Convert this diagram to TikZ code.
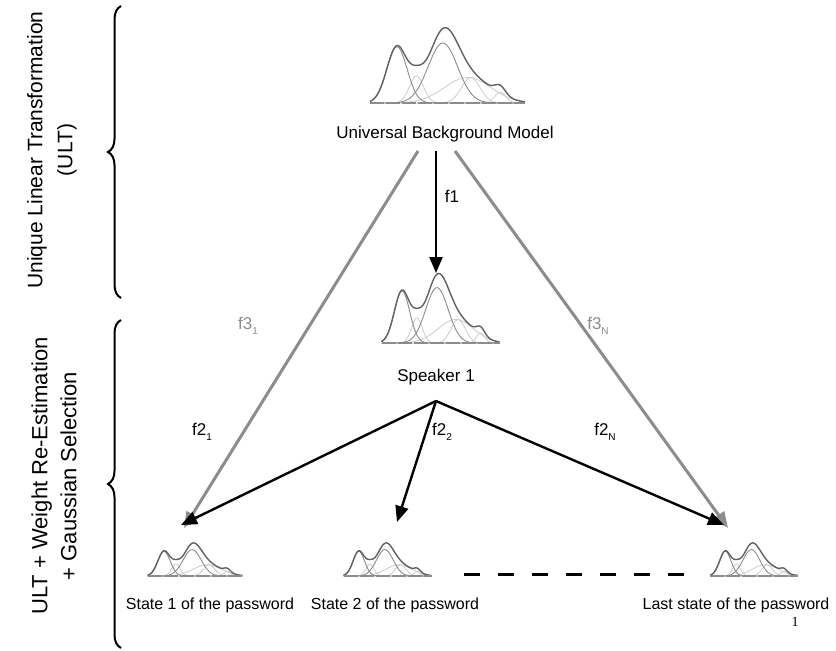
\documentclass[tikz,border=0pt]{standalone}
\usepackage{fontspec}
\setmainfont{Liberation Sans}
\newfontfamily\serifone{Liberation Serif}
\usetikzlibrary{arrows.meta,decorations.pathreplacing}

%% small mixture-of-gaussians icon: x0, baseline y, width, height
\newcommand{\gmm}[4]{%
	\begin{scope}[shift={(#1,#2)}, xscale=#3, yscale=-#4]
		\foreach \hh/\mm/\ss in {0.30/0.30/0.045, 0.28/0.65/0.06, 0.12/0.84/0.035, 0.28/0.63/0.15}
		\draw[comp] plot[domain=0:1, samples=60] (\x, {g(\x,\hh,\mm,\ss)});
		\foreach \hh/\mm/\ss in {0.62/0.174/0.065, 0.66/0.47/0.095}
		\draw[compd] plot[domain=0:1, samples=60] (\x, {g(\x,\hh,\mm,\ss)});
		\draw[envel] plot[domain=0:1, samples=100] (\x, {g(\x,0.62,0.174,0.065)+g(\x,0.16,0.30,0.045)
			+g(\x,0.66,0.47,0.095)+g(\x,0.28,0.63,0.15)+g(\x,0.09,0.84,0.035)});
		\draw[basel](0,0)--(1,0);
	\end{scope}}

\begin{document}
\begin{tikzpicture}[
	x=1pt, y=-1pt,
	declare function={g(\x,\h,\m,\s)=\h*exp(-((\x-\m)*(\x-\m))/(2*\s*\s));},
	comp/.style={line width=0.8pt, black!20},
	compd/.style={line width=0.9pt, black!45},
	envel/.style={line width=1.4pt, black!62, line join=round},
	basel/.style={line width=1.1pt, black!45, dash pattern=on 14pt off 2pt},
	fblack/.style={line width=2.4pt, black, -{Triangle[length=16pt,width=13pt]}},
	fgray/.style={line width=3pt, black!45, -{Triangle[length=16pt,width=13pt]}},
	lbl/.style={font=\fontsize{17}{20}\selectfont},
	glbl/.style={font=\fontsize{17}{20}\selectfont, text=black!45},
	statelbl/.style={font=\fontsize{16}{18}\selectfont},
	side/.style={rotate=90, align=center},
	brc/.style={line width=2pt, decorate, decoration={brace, amplitude=13pt}},
	]
	\useasboundingbox (0,0) rectangle (836,651);
	
	\newcommand{\sub}[1]{\raisebox{-5pt}{\fontsize{10}{10}\selectfont #1}}
	
	%% ── mixtures ──────────────────────────────────────────
	\gmm{370}{103}{155}{91}
	\gmm{381.5}{343}{118}{84}
	\gmm{147.5}{576}{95}{40}
	\gmm{343.5}{576}{88}{40}
	\gmm{710}{576}{88}{40}
	
	%% ── labels ────────────────────────────────────────────
	\node[lbl] (ubm) at (445,134) {Universal Background Model};
	\node[lbl] (spk) at (436,377) {Speaker 1};
	\node[statelbl] (st1) at (210,605) {State 1 of the password};
	\node[statelbl] (st2) at (395,605) {State 2 of the password};
	\node[statelbl] (stN) at (736,605) {Last state of the password};
	\node[font=\serifone\fontsize{14}{14}\selectfont] (one) at (795,622) {1};
	
	%% ── connectors ────────────────────────────────────────
	\coordinate (ubmC) at (436,151);
	\coordinate (ubmL) at (418,151);
	\coordinate (ubmR) at (455,151);
	\coordinate (spkT) at (436,273);
	\coordinate (spkB) at (436,401);
	\coordinate (in1) at (181,525);
	\coordinate (in2) at (397,522);
	\coordinate (inN) at (724,525);
	\coordinate (g1) at (184,528);
	\coordinate (gN) at (728,528);
	\coordinate (dashA) at (464,574);
	\coordinate (dashB) at (684,574);
	
	\draw[fgray](ubmL)--(g1);
	\draw[fgray](ubmR)--(gN);
	\draw[fblack](ubmC)--(spkT);
	\draw[fblack](spkB)--(in1);
	\draw[fblack](spkB)--(in2);
	\draw[fblack](spkB)--(inN);
	\draw[line width=3pt, dash pattern=on 16pt off 18pt](dashA)--(dashB);
	
	\node[lbl] (f1) at (452,196) {f1};
	\node[glbl] (f31) at (248,326) {f3\sub{1}};
	\node[glbl] (f3N) at (598,326) {f3\sub{N}};
	\node[lbl] (f21) at (202,432) {f2\sub{1}};
	\node[lbl] (f22) at (442,432) {f2\sub{2}};
	\node[lbl] (f2N) at (605,432) {f2\sub{N}};
	
	%% ── side braces ───────────────────────────────────────
	\draw[brc](121,298)--(121,6);
	\draw[brc](121,648)--(121,320);
	\node[side, font=\fontsize{21}{30}\selectfont] (ult) at (52,150) {Unique Linear Transformation\\(ULT)};
	\node[side, font=\fontsize{22}{29}\selectfont] (wre) at (54,476) {ULT + Weight Re-Estimation\\+ Gaussian Selection};
	
\end{tikzpicture}
\end{document}
